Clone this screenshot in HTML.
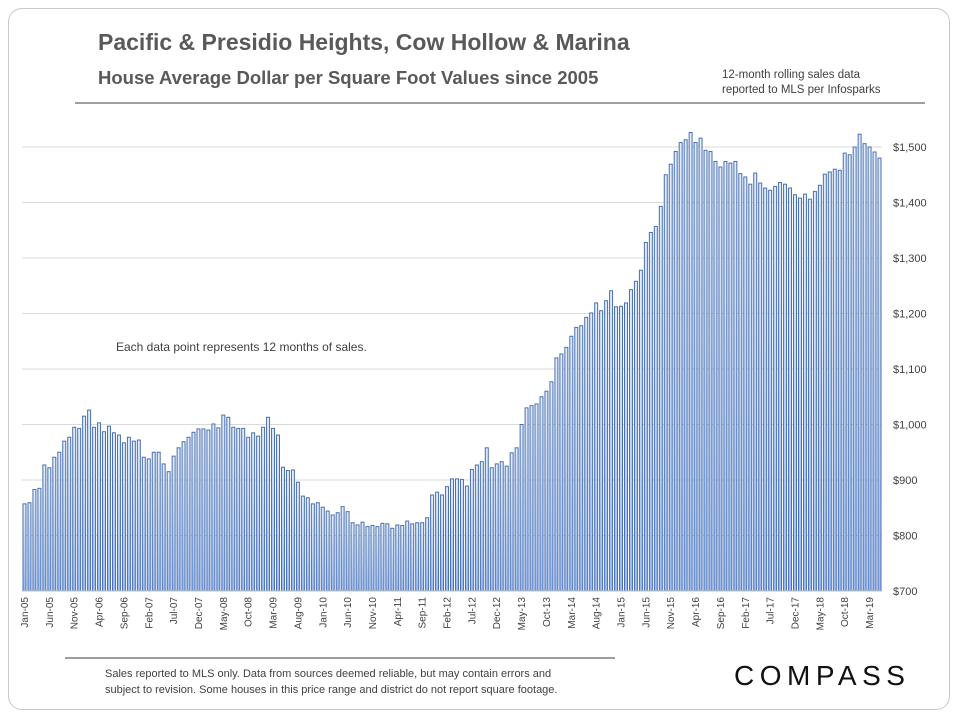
<!DOCTYPE html>
<html><head><meta charset="utf-8"><style>
body{margin:0;background:#fff;font-family:"Liberation Sans",sans-serif;}
#card{position:absolute;left:8px;top:8px;width:940px;height:700px;border:1px solid #c8c8c8;border-radius:14px;}
</style></head><body>
<div id="card"></div>
<svg id="c" width="960" height="720" style="position:absolute;left:0;top:0">
<defs><linearGradient id="g" x1="0" y1="0" x2="0" y2="1"><stop offset="0" stop-color="#e3eefc"/><stop offset="1" stop-color="#9bbcf0"/></linearGradient></defs>
<text x="98" y="50" font-size="23" font-weight="bold" fill="#595959">Pacific &amp; Presidio Heights, Cow Hollow &amp; Marina</text>
<text x="98" y="84" font-size="18.5" font-weight="bold" fill="#595959">House Average Dollar per Square Foot Values since 2005</text>
<text x="722" y="78" font-size="11.5" fill="#404040">12-month rolling sales data</text>
<text x="722" y="93" font-size="11.5" fill="#404040">reported to MLS per Infosparks</text>
<line x1="75" y1="103" x2="925" y2="103" stroke="#7f7f7f" stroke-width="1.5"/>
<text x="116" y="351" font-size="12" fill="#404040">Each data point represents 12 months of sales.</text>
<g id="grid"></g><g id="bars"></g><g id="yl"></g><g id="xl"></g>
<line x1="65" y1="658" x2="615" y2="658" stroke="#7f7f7f" stroke-width="1.5"/>
<text x="105" y="677" font-size="11" fill="#404040">Sales reported to MLS only. Data from sources deemed reliable, but may contain errors and</text>
<text x="105" y="693" font-size="11" fill="#404040">subject to revision. Some houses in this price range and district do not report square footage.</text>
<text x="734" y="685" font-size="28" fill="#111" letter-spacing="5.5">COMPASS</text>
</svg>
<script>
const values=[857,859,883,885,927,922,941,950,970,977,995,993,1015,1026,995,1003,987,997,985,981,967,977,970,972,941,938,950,950,929,915,943,958,969,977,986,992,992,990,1001,994,1017,1013,995,993,993,977,985,979,995,1013,993,981,923,917,918,896,871,868,857,
859,851,844,837,841,852,843,823,819,824,816,818,816,822,821,813,819,818,826,821,823,823,832,873,878,873,888,902,902,901,889,919,927,933,958,922,929,933,925,949,958,1000,1030,1034,1037,
1050,1060,1077,1120,1127,1139,1159,1175,1178,1193,1201,1219,1205,1223,1241,1212,1213,1219,1243,1258,1278,1328,1346,1357,1393,1450,1469,1492,1508,1513,1526,1508,1516,1494,1492,1474,1464,1474,1471,1474,1452,1446,1433,1453,1435,1426,1422,1429,1436,1433,1426,1414,1408,1415,1406,1420,1431,1451,1455,1460,1458,1489,1486,1500,1523,1506,1500,1491,1480];
const yTicks=[700,800,900,1000,1100,1200,1300,1400,1500];
const months=["Jan","Feb","Mar","Apr","May","Jun","Jul","Aug","Sep","Oct","Nov","Dec"];
const X0=22,X1=882,Y0=591,Y1=147,VMIN=700,VMAX=1500;
const ns="http://www.w3.org/2000/svg";
const bw=(X1-X0)/values.length;
const y=v=>Y0-(v-VMIN)/(VMAX-VMIN)*(Y0-Y1);
const x=i=>X0+i*bw;
function mk(t,a,p){const e=document.createElementNS(ns,t);for(const k in a)e.setAttribute(k,a[k]);p.appendChild(e);return e;}
const grid=document.getElementById('grid'),yl=document.getElementById('yl'),bars=document.getElementById('bars'),xl=document.getElementById('xl');
yTicks.forEach(v=>{
 const l=mk('line',{x1:X0,x2:X1,y1:y(v),y2:y(v),stroke:'#d9d9d9','stroke-width':1},grid);
 
 
 const t=mk('text',{x:893,y:y(v)+4,'font-size':11,fill:'#404040'},yl);
 t.textContent='$'+v.toLocaleString('en-US');
 
 
});
values.forEach((v,i)=>{
 const r=mk('rect',{x:x(i)+1,y:y(v),width:bw-2,height:Y0-y(v),fill:'url(#g)',stroke:'#4a6fb0','stroke-width':1},bars);
 
 
});
const ax=mk('line',{x1:X0,x2:X1,y1:Y0,y2:Y0,stroke:'#bfbfbf'},xl);


for(let i=0;i<values.length;i+=5){
 const cx=x(i)+bw/2;
 const lab=months[i%12]+'-'+String(5+Math.floor(i/12)).padStart(2,'0');
 const t=mk('text',{x:0,y:0,'font-size':10,fill:'#404040','text-anchor':'end',transform:`translate(${cx+3.5},${Y0+6}) rotate(-90)`},xl);
 t.textContent=lab;
 
 
}
</script>
</body></html>
